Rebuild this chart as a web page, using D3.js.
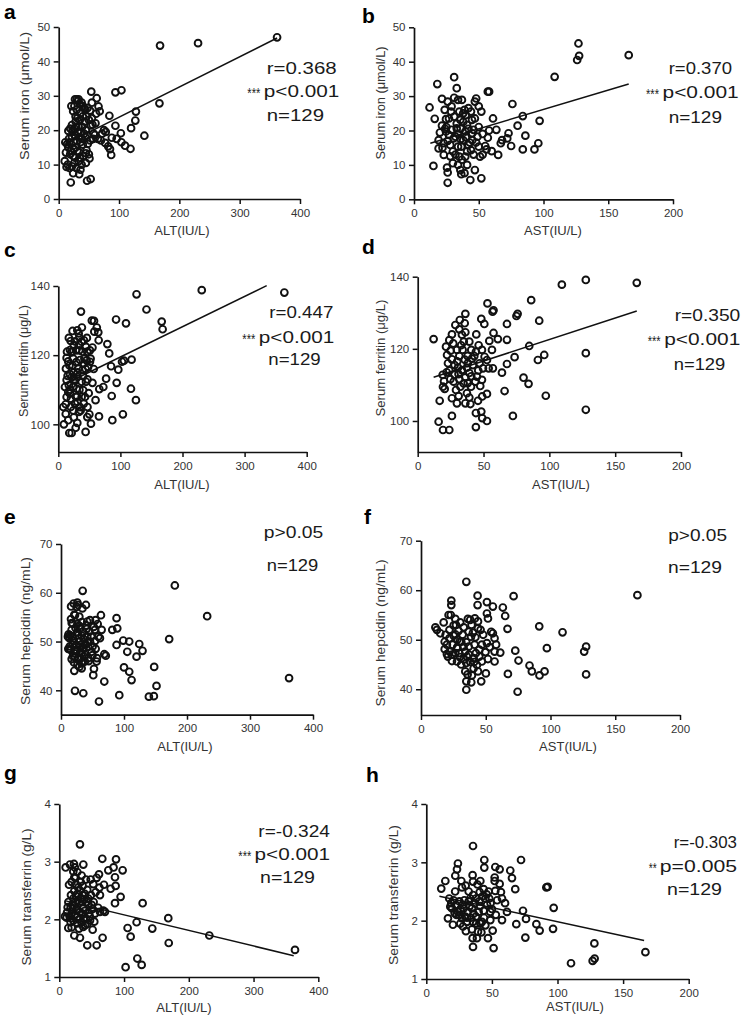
<!DOCTYPE html>
<html><head><meta charset="utf-8">
<script src="https://cdn.jsdelivr.net/npm/d3@7/dist/d3.min.js"></script>
<style>
body{margin:0;background:#fff}
svg{display:block}
text{font-family:"Liberation Sans",Arial,Helvetica,sans-serif}
</style>
</head><body>
<svg id="chart" width="744" height="1021"></svg>
<script>
// ---------- DATA ----------
const panelLetters = ["a","b","c","d","e","f","g","h"];
const xTitles = ["ALT(IU/L)","AST(IU/L)","ALT(IU/L)","AST(IU/L)","ALT(IU/L)","AST(IU/L)","ALT(IU/L)","AST(IU/L)"];
const yTitles = ["Serum iron (\u03bcmol/L)","Serum iron (\u03bcmol/L)","Serum ferritin (\u03bcg/L)","Serum ferritin (\u03bcg/L)",
                 "Serum hepcidin (ng/mL)","Serum hepcidin (ng/mL)","Serum transferrin (g/L)","Serum transferrin (g/L)"];
const altTicks = [0,100,200,300,400];
const astTicks = [0,50,100,150,200];
const ironTicks = [0,10,20,30,40,50];
const ferritinTicks = [100,120,140];
const hepcidinTicks = [40,50,60,70];
const transferrinTicks = [1,2,3,4];
const rTexts = ["r=0.368","r=0.370","r=0.447","r=0.350",null,null,"r=-0.324","r=-0.303"];
const pStars = ["***","***","***","***","","","***","**"];
const pTexts = ["p<0.001","p<0.001","p<0.001","p<0.001","p>0.05","p>0.05","p<0.001","p=0.005"];
const nTexts = ["n=129","n=129","n=129","n=129","n=129","n=129","n=129","n=129"];

const altIron = [[362,47.0],[231,45.3],[168,44.6],[167,27.8],[128,25.4],[127,22.8],[120,20.6],[142,18.4],[119,14.6],[110,15.5],[104,16.5],[103,19.1],[94,21.3],[94,31.0],[104,31.6],[84,24.2],[75,20.0],[78,19.5],[77,16.3],[82,15.3],[85,14.5],[87,12.8],[88,17.8],[96,17.5],[63,29.3],[66,26.9],[68,25.5],[62,24.8],[60,18.6],[65,17.5],[70,17.0],[72,19.0],[61,22.0],
[54,31.2],[48,26.5],[52,25.7],[55,23.5],[50,23.0],[53,21.4],[56,21.6],[57,17.5],[52,17.0],[51,11.8],[46,14.2],[45,13.3],[47,5.3],[53,5.8],[42,19.0],[44,18.1],[40,15.8],[38,17.5],[41,12.5],[38,10.0],[36,8.5],[34,7.2],[35,12.0],[34,13.5],[36,16.5],[32,19.5],[33,21.0],[35,23.0],[36,25.0],[35,27.5],[32,28.5],[38,28.0],[42,26.5],[40,24.0],[30,26.0],[28,24.0],[28,22.5],[26,20.5],[27,18.5],[30,17.0],[28,15.0],[25,14.5],[24,12.5],[26,10.5],[22,9.5],[24,7.5],[20,4.8],[18,9.0],[15,10.0],[10,11.0],[12,13.5],[14,16.0],[16,15.0],[18,16.5],[20,14.0],[22,18.0],[23,20.0],[22,21.5],[24,25.5],[26,27.0],[21,27.0],[30,29.0],[33,29.0],[29,21.0],[31,14.0],[33,11.0],[29,9.0],[43,22.5],[45,20.0],[47,18.5],[44,26.0],[39,21.0],[37,19.5],[25,16.5],[19,13.0],[17,17.5],[13,9.3],[11,16.5],[27,12.0],[48,16.0],[50,13.0],[58,19.0],[40,27.0],[46,24.0],[31,23.5],[35,18.0],[23,19.5],[16,19.8],[19,20.5],[55,28.0],[27,29.0],[45,10.5]];

const astIron = [[127,45.3],[127.5,41.7],[126,40.5],[165.8,41.9],[108.6,35.6],[97,22.8],[96,16.3],[93,14.5],[84,14.5],[86,18.5],[80,21.4],[84,24.2],[76,27.7],[75,15.5],[73,19.2],[72,17.7],[67,16.3],[68,17.2],[65,12.9],[63.6,20.2],[61,23.5],[57,17.9],[56,14.5],[57,31.3],[58,31.3],[52,6.1],[43.5,5.6],[47,8.5],[51,12.4],[50,15.3],[49,18.2],[48,29.3],[50,27.0],[52,25.5],
[12,26.7],[18,33.5],[16,23.4],[15,9.7],[26,4.8],[26,7.8],[25.5,9.2],[21.6,29.2],[20,19.4],[21.6,21.4],[19,14.8],[23,12.9],[23.7,26.0],[24.7,23.3],[26,28.4],[28,15.8],[29,20.2],[30.6,17.7],[31,35.5],[33,32.3],[34,28.9],[35,25.5],[35.8,23.1],[33,20.6],[32,18.2],[34,15.3],[35,12.4],[34,10.0],[35.8,8.5],[36.5,7.3],[39,7.6],[39.6,12.4],[41,13.9],[42,15.8],[38,17.2],[39.6,19.7],[41,21.6],[40,24.5],[42,26.5],[37,28.9],[44.8,23.1],[46,20.2],[45,17.2],[44,14.3],[45,19.2],[19,17.2],[23,16.3],[27,18.7],[30,13.9],[36.5,15.3],[28.6,25.5],[24.7,19.7],[47,28.4],
[22,15.0],[25,21.0],[27,23.5],[29,27.0],[31,24.0],[33,22.0],[36,20.5],[38,22.5],[40,18.0],[43,16.5],[46,13.0],[48,16.5],[50,21.0],[53,19.0],[55,15.5],[30,10.5],[32,13.0],[37,11.5],[41,10.0],[44,25.5],[47,23.5],[26,17.0],[28,12.5],[34,19.0],[39,26.0],[42,20.5],[53,13.0],[36,17.5],[24,20.5],[58,20.0],[60,14.0],[31,29.5],[38,25.0]];

const altFerritin = [[364,138.1],[231,138.8],[126,137.6],[142,133.2],[166.5,129.7],[168,127.5],[93,130.3],[109,129.2],[118,118.7],[117,110.3],[125,107],[104,102.9],[87,101.2],[86,108.2],[94,112],[96.6,115.8],[102.6,118.1],[105.7,118.4],[85,116.8],[82,120.5],[79,123.2],[77,113.2],[72.5,110.8],[66,110.2],[60,107],[65.5,102.3],[54,130],[57.5,129.9],[62,128],[64.4,126.6],[65,124.3],[55,122.2],[58,126.8],[47,105],[50,102.9],[52.6,100.2],[44,97.8],[46.7,102.1],
[36.5,132.6],[30.6,127.2],[32.8,126.3],[33.8,125.1],[37.6,123.9],[41.3,124.3],[44.6,122.4],[46.7,121],[51,121.4],[45.6,118.5],[51,118.1],[48,116.6],[41.3,117.6],[39,115.7],[40,113.9],[44.6,112.3],[40,109.9],[37.6,107.9],[35,105],[33.3,103.6],[30.6,100.4],[21.5,97.5],[17.7,97.5],[16,101.2],[9,100],[8,105],[12,105.8],[13.4,107.9],[16,109.4],[18.8,108.9],[17,111.3],[13.4,112.8],[12.3,116.1],[13.4,119.2],[16,118.2],[18.8,121.5],[20,124.1],[21.5,120.9],[24,119],[23,117],[25,115],[21.5,113.6],[26.8,112.6],[24,110.9],[29.5,110.3],[28.5,107.9],[26.8,106],[24,104],[31,113.7],[32,116.1],[35,118.6],[28.5,121.4],[25,122.9],[33.8,121.4],[37.6,112.3],[20.4,107.4],[18.8,114.5],[10.7,110.8],[43,107.9],[30.6,106.5],
[15,114],[18,117],[22,121],[27,124],[29,118],[31,115],[34,110],[36,104],[39,121],[42,119],[44,116],[47,113],[49,109],[52,119],[20,105],[25,102],[28,99],[12,103],[14,121],[17,125],[23,127],[26,113],[38,128],[41,106],[55,112],[57,116],[33,123],[19,110],[30,108],[46,125]];

const astFerritin = [[166.4,138.3],[127.7,139.1],[109.5,137.8],[86.2,133.5],[92.3,127.8],[75.9,129.7],[75,129.1],[57.6,130.7],[56.9,130.3],[53,132.6],[48.3,128.3],[50.6,126.9],[67.8,126.9],[67.8,122.5],[60.9,122.7],[57.6,124.4],[56.4,119.7],[54.4,122.2],[84.7,120.8],[96.1,118.3],[91.3,116.9],[73.6,117.7],[67.8,115.8],[64,113.4],[80.4,112],[84.2,110.3],[97.3,107],[72.3,101.4],[66,108.3],[127.7,118.8],[127.7,103.1],[52.6,107.5],[49,106.8],[48.3,102.6],[49,100.8],[52.6,100],[44.2,98.3],[44.2,102.2],[45.8,105.6],[40,104.7],[39.2,106.5],[37.4,107.7],[40.5,109.5],[43.7,110.9],[45,112.3],[47.5,109.7],[48.8,111.4],[49.6,114.6],[52.6,116.9],[50.8,117.8],[48.8,119.7],[44.2,119.2],[46.3,121],[44.5,124],[39.2,122],[36.2,124.6],[33.6,123.9],[31.6,125.4],[35.7,127.1],[36.2,129.7],[28.6,126.6],[24,122.4],[21.5,120.6],[22.3,118.3],[23,116],[26,117.1],[29.8,119.7],[31.6,118],[34.1,119.7],[35.7,117],[37.9,118],[40.7,119.7],[41.2,117.3],[37.4,114.8],[33.6,114.1],[30.6,114.8],[28,112.8],[31.6,111.6],[34.9,110.4],[36.2,112.1],[39.2,113.3],[40.7,112.4],[32.4,109.5],[29.1,108.6],[26,106.3],[29.8,104.9],[31.1,106.9],[36.2,104.9],[26,101.4],[24,97.5],[19.2,97.5],[15.9,99.8],[16.7,105.6],[19.2,109.5],[12.1,122.7],[19,112.8],[20.5,108.9],[24.8,111.6],[27.3,110.9],[53.9,114.6],[57.1,114.6],
[22,113.5],[25,119.5],[27,121.5],[30,116.5],[33,121],[38,116],[42,115.5],[46,114],[28,115.5],[35,122],[24,114],[31,113],[43,118],[20,111],[38,110.5],[47,116],[26,124],[32,128]];

const altHepcidin = [[362,42.5],[232,55.2],[180.7,61.5],[171.7,50.5],[147.9,44.8],[151.6,40.9],[147.4,38.8],[139.5,38.7],[129.4,48.1],[124.2,49.5],[119.9,46.9],[112,42.1],[108.3,43.8],[108.3,50],[98.8,50.2],[105.2,47.9],[100,44.7],[92.5,39],[88.2,49.3],[89.3,52.7],[88.2,54.8],[81.4,52.4],[68.7,41.8],[60.3,37.7],[71.1,47.1],[68.7,47.4],[61.8,50.7],[64.5,52.4],[63.4,55.4],[58.2,53.6],[54.8,54.4],[53.9,52.4],[56.5,45.9],[52.3,44.4],[51.2,43.1],[35.4,39.4],[22.2,39.9],[39.6,57.5],[34.4,60.4],[24.9,57.1],[26,58],[29.1,55.1],[20.6,45.7],[21.1,44],[15.9,54.6],[14.3,51.3],[11.6,48.5],[15.3,48.3],[19.6,50.1],[22.2,46.8],[27.5,46.4],[32.8,44.5],[34.3,45.9],[32.8,47.6],[35.4,48.6],[39.6,49.4],[41.7,51],[40.7,52.6],[41.7,54.1],[46,54.4],[46,50],[43.3,46.6],[48.6,47.9],[34.3,52],[30,52.7],[27.5,51.3],[26,53.6],[30,50],[38,49.3],[23.8,49.3],[18.5,49.3],[16.9,46.4],[20.6,47.6],[31.2,46.6],[29.1,44.8],[24.8,47.9],[25.9,51.9],[16.9,52.4],[32.8,51.2],[36.5,46.9],[50.2,49],[54,50.1],[59.2,51],[22.2,55.4],[18.5,53.7],[13.2,50.7],[18,51],[30,48.9],[43.3,48.9],[38,45.9],
[12,51.5],[14,49],[17,53.8],[19,47],[21,55.5],[23,52.8],[24,48.3],[26,45.2],[28,50.6],[29,53.2],[31,48],[33,45.5],[34,56.8],[36,50.5],[38,47.3],[40,53.3],[42,49.9],[44,46],[45,52],[48,51],[50,47.2],[52,53],[55,48.5],[57,46.6],[16,57.2],[20,57.8],[27,57.5],[33,54],[11,51],[14,48.5]];

const astHepcidin = [[167.1,59.0],[35,61.7],[43.7,58.9],[43.7,57],[50.9,57.6],[50.9,55.3],[51.7,54.3],[55.5,56.7],[63.2,56.5],[65,54.8],[66.8,52.2],[71.5,58.8],[72.8,47.8],[75.3,45.8],[74.6,39.5],[67.1,43.1],[83.8,44.8],[85.6,43.6],[91.5,42.8],[95.4,43.6],[91.3,52.7],[97.2,48.3],[109.3,51.5],[126,47.6],[127.5,48.6],[127.5,43],[61.2,47.4],[56.8,45.6],[56.8,47.6],[56.8,50.3],[54.2,51.6],[55.5,51.3],[50.9,49.3],[49.8,47.5],[50.1,43.2],[47,45.6],[47,49],[46.5,41.6],[44,43.6],[44,52.3],[44,53.7],[41.6,54.3],[40.1,51.4],[38.6,50.6],[40.6,46.3],[40.6,44.2],[39.3,42.8],[38.8,41.4],[35,41.6],[35,39.9],[34.2,43.6],[35,45.3],[35.5,46.6],[34.2,47.6],[36.8,48.6],[36.2,54.2],[38,54],[32.1,51],[31.1,49.6],[32.9,48.6],[29.6,47.3],[26.5,47.3],[27.8,48.3],[26.5,51.1],[25.2,52.9],[26.5,54.2],[30.3,53.5],[23.4,57],[23.4,57.9],[21.3,55],[17.5,53.5],[18.3,49.6],[18.3,48.1],[20.8,46.6],[23.9,45.7],[24.4,49],[21.9,50.3],[14.9,51.3],[12.3,52],[11.1,52.5],[20,47.1],[27.8,45.6],[42.4,47.3],[41.4,49],[45,46.6],[43.2,44.9],[51.7,46.1],[36.8,51.6],[29,51.8],[22.1,47.6],[29.8,49.6],[25.2,50.8],
[20,49],[22,52],[24,47],[28,50],[30,46.5],[33,52.5],[35,49.5],[37,47],[39,53],[42,50.5],[45,48],[48,51],[31,45],[27,53],[19,51],[23,55],[33,46],[38,45.5],[53,48.5],[58,49],[36,43],[41,45.5],[28,48.5],[46,52]];

const altTransferrin = [[364,1.47],[231.7,1.72],[168.3,2.02],[169,1.59],[143.6,1.84],[128.7,2.28],[119.4,1.95],[120.5,1.32],[127.2,1.21],[102.4,1.17],[110.2,1.70],[105.5,1.85],[94.7,2.39],[86,2.28],[97.8,2.85],[87.6,3.04],[86,2.73],[87,2.58],[79.3,2.53],[75.7,2.85],[83.8,2.9],[66.4,3.05],[69,2.6],[66.9,1.68],[70.5,2.13],[62.8,2.13],[57.7,1.55],[51.5,1.82],[54,1.96],[55.1,2.1],[50,2.25],[48.9,2.42],[52.5,2.61],[57.7,2.72],[61.3,2.78],[62.8,2.42],[43.2,1.92],[43.2,1.55],[47.4,1.98],[46.3,2.11],[42.2,2.3],[43.2,2.51],[41.2,2.69],[31.9,3.3],[37.1,2.95],[34.5,2.76],[36,2.58],[36,2.42],[37.1,2.2],[36,2.08],[34.5,1.95],[31.9,1.68],[30.4,1.84],[27.8,2.18],[28.3,2.33],[27.8,2.44],[25.7,2.61],[27.8,2.82],[22.7,2.96],[21.6,2.83],[23.2,2.73],[19,2.65],[18,2.42],[17.5,2.21],[19,2.1],[17.5,1.95],[19,1.86],[23.2,1.72],[13.9,1.85],[11.3,2.03],[8.8,2.05],[9.8,2.9],[16.5,2.95],[21.6,2.36],[24.2,2.07],[33,2.37],[39.6,2.44],[12.9,2.21],[20.6,2.18],[27.8,2.04],[31.9,2.13],[38.1,2.01],[44.8,2.36],[51.5,2.18],[56.1,2.47],[48.4,2.69],[23.2,2.49],[30.4,2.28],
[14,2.3],[16,2.05],[20,2.25],[22,1.98],[25,2.3],[26,2.15],[29,2.55],[30,2.0],[33,2.65],[35,2.3],[38,2.35],[40,2.15],[45,2.25],[15,2.6],[24,2.9],[35,2.1],[40,1.9],[53,2.3],[60,2.2],[12,2.12],[18,2.02],[28,1.93],[32,2.5],[26,2.4],[47,2.05],[62,2.55],[68,2.15],[42,2.0],[37,1.87],[25,2.72]];

const astTransferrin = [[167,1.46],[110.3,1.27],[128.1,1.61],[128.3,1.35],[126.8,1.31],[97.1,2.22],[96.6,1.86],[92.5,2.58],[91.5,2.57],[86.4,1.83],[83.9,1.94],[76,2.03],[75.5,1.71],[73.7,2.17],[72.2,3.04],[68.6,1.94],[67.8,2.54],[65.3,2.73],[64,2.86],[61.5,2.15],[57.7,2.01],[57.7,2.38],[56.9,2.49],[55.9,2.63],[55.9,2.88],[52.6,2.51],[52.1,2.74],[52.6,2.92],[51.3,1.53],[50.6,1.83],[52.1,2.68],[48.8,2.01],[48,2.38],[47,1.7],[44.2,3.04],[44.2,2.91],[43.7,2.54],[43.7,2.17],[46.3,2.27],[41.2,2.68],[40.7,2.49],[40.4,2.33],[39.9,2.15],[39.4,1.81],[38.6,1.7],[41.2,1.95],[35.6,2.67],[35.3,2.78],[35.6,3.28],[35.6,2.44],[34.8,2.21],[35.6,1.98],[34.8,1.85],[35.3,1.7],[35.6,1.55],[32.3,2.5],[32.3,2.33],[31.5,2.15],[30.2,1.82],[29.7,2.07],[27.2,2.04],[27.7,2.27],[27.2,2.57],[26.7,2.68],[24.1,2.98],[23.4,2.88],[22.1,2.77],[24.1,2.15],[25.2,2.33],[22.6,2.27],[20.8,2.35],[19.6,2.21],[20.3,1.93],[16.5,2.04],[17.5,2.38],[14.5,2.68],[11.4,2.55],[18.3,2.24],[21.6,2.13],[25.2,2.1],[28.5,2.21],[37.9,2.38],[33.5,2.38],[37.9,2.07],[45,2.38],[47.5,2.5],[48.8,2.15],[42.4,1.98],[31,1.98],[25.9,1.95],
[19,2.3],[23,2.1],[26,2.2],[29,2.35],[31,2.05],[33,2.25],[36,2.12],[38,1.95],[41,2.25],[44,2.05],[46,2.45],[49,2.3],[54,2.35],[30,2.6],[39,2.62],[42,1.8],[34,2.05],[28,1.9],[37,2.3],[45,1.92],[50,2.2],[60,2.3],[22,2.5],[43,2.42],[53,2.1]];

// regression line endpoints [x, y]
const fitAltIron = [[10,15.9],[362,46.8]];
const fitAstIron = [[12.6,16.3],[165.8,33.5]];
const fitAltFerritin = [[10,111.6],[335.6,140.1]];
const fitAstFerritin = [[12.1,112.1],[166.4,130.5]];
const fitAltTransferrin = [[10,2.32],[362,1.37]];
const fitAstTransferrin = [[10,2.42],[166,1.66]];

// ---------- LAYOUT ----------
const panels = [
 {pts:altIron, fit:fitAltIron, xd:[0,400], xt:altTicks, yd:[0,50], yt:ironTicks,
  xr:[58.7,300], yr:[199,27], yTtl:[29,96,128], xTtl:[182,235], letter:[4,19],
  r:[266.7,74,70], st:[248.3,97,15], p:[263.3,97,76], n:[266.7,120.7,57.3]},
 {pts:astIron, fit:fitAstIron, xd:[0,200], xt:astTicks, yd:[0,50], yt:ironTicks,
  xr:[414,673], yr:[199.3,27.3], yTtl:[384.5,103,113], xTtl:[553,235], letter:[362,23],
  r:[668.7,74,63.3], st:[647,98,15], p:[662,98,76.7], n:[668.7,122.7,53.3]},
 {pts:altFerritin, fit:fitAltFerritin, xd:[0,400], xt:altTicks, yd:[92,140], yt:ferritinTicks,
  xr:[58.3,306.7], yr:[452,286], yTtl:[27.5,361,112], xTtl:[182,489], letter:[4,257],
  r:[269.3,318.3,64], st:[243.3,342.5,15], p:[258.3,342.5,76], n:[268.3,365,52.4]},
 {pts:astFerritin, fit:fitAstFerritin, xd:[0,200], xt:astTicks, yd:[91.4,140], yt:ferritinTicks,
  xr:[417.7,681], yr:[452,276.7], yTtl:[384.5,358,117], xTtl:[561,489], letter:[362,254],
  r:[674.7,320.5,65.6], st:[648.7,345,15], p:[663.7,345,76.6], n:[673.7,370,51.6]},
 {pts:altHepcidin, fit:null, xd:[0,400], xt:altTicks, yd:[35,70], yt:hepcidinTicks,
  xr:[61,313], yr:[714.7,544], yTtl:[30,631,148], xTtl:[185,750.5], letter:[4,524],
  r:null, st:null, p:[263.3,538.3,60], n:[266.7,570.7,51.6]},
 {pts:astHepcidin, fit:null, xd:[0,200], xt:astTicks, yd:[34.8,70], yt:hepcidinTicks,
  xr:[421,680], yr:[715,540.7], yTtl:[384.5,633,147], xTtl:[568,751], letter:[364,524],
  r:null, st:null, p:[667.7,541,59.3], n:[668,573.3,54]},
 {pts:altTransferrin, fit:fitAltTransferrin, xd:[0,400], xt:altTicks, yd:[1,4], yt:transferrinTicks,
  xr:[59.3,318.3], yr:[977,804], yTtl:[31,897,137], xTtl:[184,1012], letter:[4,780],
  r:[258.3,836.7,71.7], st:[239.3,860,15], p:[254,860,76], n:[260,883.3,55]},
 {pts:astTransferrin, fit:fitAstTransferrin, xd:[0,200], xt:astTicks, yd:[1,4], yt:transferrinTicks,
  xr:[426.3,688.7], yr:[979,804], yTtl:[398,895,140], xTtl:[575,1011], letter:[366,781.7],
  r:[673.7,848,63.3], st:[649.7,871.7,10], p:[659.3,871.7,77.7], n:[667,895,55]}
];

const svg = d3.select("#chart");
svg.append("rect").attr("width",744).attr("height",1021).attr("fill","#fff");

function addText(g, s, x, y, size, len, color){
  const t = g.append("text").attr("x",x).attr("y",y).attr("font-size",size)
    .attr("fill",color||"#1a1a1a").text(s);
  if(len){ t.attr("textLength",len).attr("lengthAdjust","spacingAndGlyphs"); }
  return t;
}

panels.forEach((P,i)=>{
  const g = svg.append("g");
  const x = d3.scaleLinear().domain(P.xd).range(P.xr);
  const y = d3.scaleLinear().domain(P.yd).range(P.yr);
  const axY = P.yr[0];

  const ya = g.append("g").attr("transform",`translate(${P.xr[0]},0)`)
    .call(d3.axisLeft(y).tickValues(P.yt).tickSize(5).tickSizeOuter(0).tickPadding(3.5).tickFormat(d3.format("d")));
  const xa = g.append("g").attr("transform",`translate(0,${axY})`)
    .call(d3.axisBottom(x).tickValues(P.xt).tickSize(5).tickSizeOuter(0).tickPadding(4.5).tickFormat(d3.format("d")));
  [ya,xa].forEach(a=>{
    a.select(".domain").attr("stroke","#111").attr("stroke-width",1.7);
    a.selectAll(".tick line").attr("stroke","#111").attr("stroke-width",1.5);
    a.selectAll(".tick text").attr("font-size",11.5).attr("fill","#333")
      .attr("font-family",'"Liberation Sans",Arial,sans-serif');
  });

  if(P.fit){
    g.append("path").datum(P.fit)
      .attr("d", d3.line().x(d=>x(d[0])).y(d=>y(d[1])))
      .attr("fill","none").attr("stroke","#111").attr("stroke-width",1.5);
  }

  g.append("g").selectAll("circle").data(P.pts).join("circle")
    .attr("cx",d=>x(d[0])).attr("cy",d=>y(d[1])).attr("r",3.4)
    .attr("fill","none").attr("stroke","#111").attr("stroke-width",1.9);

  g.append("text")
    .attr("transform",`translate(${P.yTtl[0]},${P.yTtl[1]}) rotate(-90)`)
    .attr("text-anchor","middle").attr("font-size",13).attr("fill","#333")
    .attr("textLength",P.yTtl[2]).attr("lengthAdjust","spacingAndGlyphs")
    .text(yTitles[i]);
  g.append("text").attr("x",P.xTtl[0]).attr("y",P.xTtl[1])
    .attr("text-anchor","middle").attr("font-size",13).attr("fill","#333")
    .text(xTitles[i]);

  g.append("text").attr("x",P.letter[0]).attr("y",P.letter[1])
    .attr("font-size",21).attr("font-weight","bold").attr("fill","#000")
    .text(panelLetters[i]);

  if(P.r && rTexts[i]) addText(g, rTexts[i], P.r[0], P.r[1], 17, P.r[2]);
  if(P.st && pStars[i]) addText(g, pStars[i], P.st[0] - 1, P.st[1] + 1, 15, P.st[2] - 2);
  addText(g, pTexts[i], P.p[0] + 0.5, P.p[1], 17, P.p[2] - 0.5);
  addText(g, nTexts[i], P.n[0], P.n[1], 17, P.n[2]);
});
</script>
</body></html>
